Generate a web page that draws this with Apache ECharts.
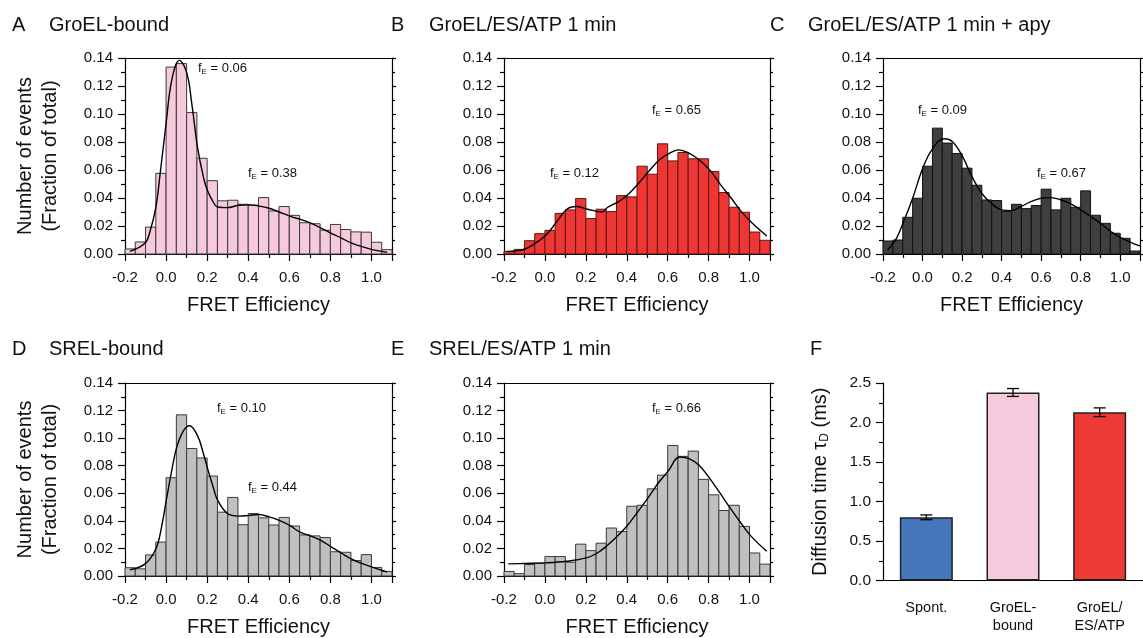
<!doctype html>
<html>
<head>
<meta charset="utf-8">
<title>FRET histograms</title>
<script src="https://cdn.jsdelivr.net/npm/echarts@6/dist/echarts.min.js"></script>
</head>
<body style="margin:0;padding:0;background:#fff;">
<div id="chart" style="width:1143px;height:638px;"></div>
<script>
// bin left edges of the FRET histograms, bins are 0.05 wide
var binStart = [-0.2, -0.15, -0.1, -0.05, 0.0, 0.05, 0.1, 0.15, 0.2, 0.25, 0.3, 0.35, 0.4,
                0.45, 0.5, 0.55, 0.6, 0.65, 0.7, 0.75, 0.8, 0.85, 0.9, 0.95, 1.0, 1.05];
var binWidth = 0.05;

// A GroEL-bound
var histA = [0.0036, 0.0086, 0.0192, 0.0576, 0.1335, 0.1360, 0.1010, 0.0684, 0.0524, 0.0380, 0.0384, 0.0355, 0.0350,
             0.0403, 0.0307, 0.0339, 0.0276, 0.0223, 0.0216, 0.0170, 0.0211, 0.0175, 0.0158, 0.0156, 0.0084, 0.0031];
var fitA = [[-0.176, 0.0019], [-0.102, 0.0079], [-0.078, 0.0163], [-0.05, 0.0331], [-0.029, 0.0572], [0.0, 0.0932],
            [0.028, 0.1244], [0.065, 0.1383], [0.101, 0.1292], [0.125, 0.1076], [0.153, 0.0764], [0.182, 0.0548],
            [0.202, 0.0451], [0.231, 0.0367], [0.25, 0.0336], [0.299, 0.0331], [0.353, 0.0348], [0.402, 0.0351],
            [0.45, 0.0343], [0.502, 0.0327], [0.551, 0.0300], [0.602, 0.0271], [0.654, 0.0247], [0.702, 0.0223],
            [0.751, 0.0187], [0.8, 0.0151], [0.852, 0.0115], [0.901, 0.0079], [0.95, 0.0055], [1.003, 0.0031], [1.076, 0.0012]];

// B GroEL/ES/ATP 1 min
var histB = [0.0019, 0.0033, 0.0095, 0.0145, 0.0169, 0.0290, 0.0315, 0.0396, 0.0253, 0.0320, 0.0303, 0.0417, 0.0408,
             0.0627, 0.0570, 0.0787, 0.0665, 0.0725, 0.0680, 0.0680, 0.0589, 0.0439, 0.0334, 0.0298, 0.0157, 0.0098];
var fitB = [[-0.187, 0.0017], [-0.097, 0.0036], [-0.048, 0.0076], [0.006, 0.0136], [0.058, 0.0231], [0.107, 0.0320],
            [0.153, 0.0339], [0.208, 0.0320], [0.28, 0.0300], [0.307, 0.0334], [0.36, 0.0374], [0.409, 0.0429],
            [0.458, 0.0506], [0.511, 0.0596], [0.56, 0.0673], [0.61, 0.0720], [0.655, 0.0744], [0.704, 0.0720],
            [0.753, 0.0673], [0.805, 0.0601], [0.859, 0.0494], [0.911, 0.0398], [0.96, 0.0303], [1.014, 0.0219], [1.084, 0.0129]];

// C GroEL/ES/ATP 1 min + apy
var histC = [0.0093, 0.0100, 0.0262, 0.0398, 0.0627, 0.0899, 0.0792, 0.0718, 0.0613, 0.0491, 0.0386, 0.0382, 0.0303,
             0.0355, 0.0324, 0.0346, 0.0463, 0.0315, 0.0398, 0.0334, 0.0451, 0.0277, 0.0219, 0.0148, 0.0112, 0.0021];
var fitC = [[-0.177, 0.0029], [-0.132, 0.0112], [-0.099, 0.0219], [-0.05, 0.0398], [-0.002, 0.0601], [0.047, 0.0744],
            [0.109, 0.0823], [0.15, 0.0804], [0.198, 0.0708], [0.25, 0.0553], [0.299, 0.0434], [0.348, 0.0363],
            [0.4, 0.0315], [0.449, 0.0310], [0.499, 0.0339], [0.548, 0.0374], [0.6, 0.0398], [0.649, 0.0403],
            [0.701, 0.0386], [0.75, 0.0358], [0.8, 0.0315], [0.852, 0.0267], [0.901, 0.0219], [0.953, 0.0160],
            [1.002, 0.0117], [1.07, 0.0072], [1.1, 0.0058]];

// D SREL-bound
var histD = [0.0060, 0.0052, 0.0153, 0.0246, 0.0713, 0.1169, 0.0925, 0.0856, 0.0725, 0.0463, 0.0570, 0.0372, 0.0453,
             0.0422, 0.0370, 0.0425, 0.0363, 0.0298, 0.0291, 0.0279, 0.0176, 0.0172, 0.0112, 0.0155, 0.0062, 0.0033];
var fitD = [[-0.176, 0.0045], [-0.102, 0.0088], [-0.05, 0.0196], [-0.021, 0.0363], [0.0, 0.0541], [0.028, 0.0768],
            [0.052, 0.0935], [0.085, 0.1054], [0.114, 0.1090], [0.153, 0.1018], [0.182, 0.0887], [0.202, 0.0780],
            [0.231, 0.0637], [0.25, 0.0553], [0.299, 0.0453], [0.353, 0.0434], [0.402, 0.0439], [0.45, 0.0446],
            [0.502, 0.0429], [0.551, 0.0403], [0.602, 0.0367], [0.65, 0.0320], [0.702, 0.0291], [0.751, 0.0260],
            [0.8, 0.0215], [0.852, 0.0167], [0.901, 0.0124], [0.95, 0.0093], [1.003, 0.0064], [1.076, 0.0029]];

// E SREL/ES/ATP 1 min
var histE = [0.0033, 0.0017, 0.0083, 0.0093, 0.0141, 0.0141, 0.0100, 0.0231, 0.0184, 0.0238, 0.0348, 0.0322, 0.0506,
             0.0513, 0.0632, 0.0732, 0.0947, 0.0868, 0.0906, 0.0701, 0.0589, 0.0475, 0.0513, 0.0360, 0.0167, 0.0086];
var fitE = [[-0.179, 0.0088], [-0.097, 0.0091], [0.001, 0.0095], [0.107, 0.0107], [0.202, 0.0131], [0.254, 0.0165],
            [0.303, 0.0219], [0.352, 0.0286], [0.401, 0.0363], [0.45, 0.0458], [0.503, 0.0565], [0.553, 0.0673],
            [0.602, 0.0761], [0.659, 0.0863], [0.704, 0.0851], [0.753, 0.0804], [0.805, 0.0708], [0.856, 0.0601],
            [0.905, 0.0494], [0.957, 0.0386], [1.006, 0.0291], [1.084, 0.0179]];

// F diffusion times
var fCategories = ['Spont.', 'GroEL-\nbound', 'GroEL/\nES/ATP'];
var fValues = [0.80, 2.38, 2.13];
var fErrors = [0.03, 0.05, 0.055];
var fColors = ['#4677bd', '#f7cadf', '#ee3a36'];

var FONT = '"Liberation Sans", Arial, Helvetica, sans-serif';
var INK = '#111';

var chart = echarts.init(document.getElementById('chart'));

var grids = [], xAxes = [], yAxes = [], series = [], graphics = [];

function histPanel(rect, hist, fit, fill, stroke, yName) {
    var g = grids.length;
    grids.push({ left: rect[0], top: rect[1], width: rect[2], height: rect[3] });
    var xi = xAxes.length, yi = yAxes.length;
    var line = { color: '#000', width: 1.2 };
    xAxes.push({
        gridIndex: g, type: 'value', position: 'bottom', min: -0.2, max: 1.1, interval: 0.2,
        axisLine: { onZero: false, lineStyle: line },
        axisTick: { length: 7, lineStyle: line },
        minorTick: { show: true, splitNumber: 2, length: 4, lineStyle: line },
        splitLine: { show: false },
        axisLabel: {
            fontSize: 15, color: INK, fontFamily: FONT, margin: 16,
            formatter: function (v) { return v > 1.05 ? '' : v.toFixed(1); }
        },
        name: 'FRET Efficiency', nameLocation: 'middle', nameGap: 41,
        nameTextStyle: { fontSize: 20, color: INK, fontFamily: FONT }
    });
    xAxes.push({
        gridIndex: g, type: 'value', position: 'top', min: -0.2, max: 1.1,
        axisLine: { onZero: false, lineStyle: line },
        axisTick: { show: false }, axisLabel: { show: false }, splitLine: { show: false }
    });
    var left = {
        gridIndex: g, type: 'value', position: 'left', min: 0, max: 0.14, interval: 0.02,
        axisLine: { show: true, onZero: false, lineStyle: line },
        axisTick: { show: true, length: 7, lineStyle: line },
        minorTick: { show: true, splitNumber: 2, length: 4, lineStyle: line },
        splitLine: { show: false },
        axisLabel: {
            fontSize: 15, color: INK, fontFamily: FONT, margin: 12,
            formatter: function (v) { return v.toFixed(2); }
        }
    };
    if (yName) {
        left.name = 'Number of events\n(Fraction of total)';
        left.nameLocation = 'middle';
        left.nameRotate = 90;
        left.nameGap = 62;
        left.nameTextStyle = { fontSize: 20, color: INK, fontFamily: FONT, lineHeight: 25 };
    }
    yAxes.push(left);
    yAxes.push({
        gridIndex: g, type: 'value', position: 'right', min: 0, max: 0.14, interval: 0.02,
        axisLine: { show: true, onZero: false, lineStyle: line },
        axisTick: { show: true, length: 4, lineStyle: line },
        minorTick: { show: true, splitNumber: 2, length: 3, lineStyle: line },
        splitLine: { show: false }, axisLabel: { show: false }
    });
    series.push({
        type: 'custom', xAxisIndex: xi, yAxisIndex: yi,
        encode: { x: [0, 1], y: 2 },
        data: binStart.map(function (x, i) { return [x, x + binWidth, hist[i]]; }),
        renderItem: function (params, api) {
            var p0 = api.coord([api.value(0), 0]);
            var p1 = api.coord([api.value(1), api.value(2)]);
            return {
                type: 'rect',
                shape: { x: p0[0], y: p1[1], width: p1[0] - p0[0], height: p0[1] - p1[1] },
                style: { fill: fill, stroke: stroke, lineWidth: 1 }
            };
        },
        z: 2
    });
    series.push({
        type: 'line', xAxisIndex: xi, yAxisIndex: yi, data: fit, smooth: 0.4,
        showSymbol: false, symbol: 'none', lineStyle: { color: '#000', width: 1.4 }, z: 3
    });
}

histPanel([125, 58, 267, 196], histA, fitA, '#f7c9dd', '#3a3a3a', true);
histPanel([504, 58, 266, 196], histB, fitB, '#ee3735', '#5a1515', false);
histPanel([883, 58, 267, 196], histC, fitC, '#3f3f3f', '#111', false);
histPanel([125, 383, 267, 196], histD, fitD, '#c0c0c0', '#3a3a3a', true);
histPanel([504, 383, 266, 196], histE, fitE, '#c0c0c0', '#3a3a3a', false);

// panel F
var gF = grids.length;
grids.push({ left: 883, top: 383, width: 267, height: 197.5 });
var xF = xAxes.length, yF = yAxes.length;
xAxes.push({
    gridIndex: gF, type: 'category', data: fCategories,
    axisLine: { lineStyle: { color: '#000', width: 1.2 } },
    axisTick: { alignWithLabel: true, length: 7, lineStyle: { color: '#000', width: 1.2 } },
    axisLabel: { fontSize: 14.5, color: INK, fontFamily: FONT, margin: 18, lineHeight: 18 }
});
yAxes.push({
    gridIndex: gF, type: 'value', min: 0, max: 2.5, interval: 0.5,
    axisLine: { show: true, lineStyle: { color: '#000', width: 1.2 } },
    axisTick: { show: true, length: 7, lineStyle: { color: '#000', width: 1.2 } },
    minorTick: { show: true, splitNumber: 2, length: 4, lineStyle: { color: '#000', width: 1.2 } },
    splitLine: { show: false },
    axisLabel: { fontSize: 15.5, color: INK, fontFamily: FONT, margin: 12,
        formatter: function (v) { return v.toFixed(1); } },
    name: '{a|Diffusion time τ}{b|D}{a| (ms)}', nameLocation: 'middle', nameRotate: 90, nameGap: 52,
    nameTextStyle: {
        fontFamily: FONT, color: INK,
        rich: {
            a: { fontSize: 20, fontFamily: FONT, color: INK },
            b: { fontSize: 12, fontFamily: FONT, color: INK, padding: [10, 0, 0, 0] }
        }
    }
});
series.push({
    type: 'bar', xAxisIndex: xF, yAxisIndex: yF, barWidth: 53,
    data: fValues.map(function (v, i) {
        return { value: v, itemStyle: { color: fColors[i] } };
    }),
    itemStyle: { borderColor: '#222', borderWidth: 1.5 }
});
series.push({
    type: 'custom', xAxisIndex: xF, yAxisIndex: yF,
    data: fValues.map(function (v, i) { return [i, v - fErrors[i], v + fErrors[i]]; }),
    renderItem: function (params, api) {
        var lo = api.coord([api.value(0), api.value(1)]);
        var hi = api.coord([api.value(0), api.value(2)]);
        var st = { stroke: '#000', lineWidth: 1.3 };
        return {
            type: 'group',
            children: [
                { type: 'line', shape: { x1: lo[0], y1: lo[1], x2: hi[0], y2: hi[1] }, style: st },
                { type: 'line', shape: { x1: lo[0] - 6, y1: lo[1], x2: lo[0] + 6, y2: lo[1] }, style: st },
                { type: 'line', shape: { x1: hi[0] - 6, y1: hi[1], x2: hi[0] + 6, y2: hi[1] }, style: st }
            ]
        };
    },
    z: 5
});

// panel titles
var titles = [
    ['A', 'GroEL-bound', 12, 49, 25],
    ['B', 'GroEL/ES/ATP 1 min', 391, 429, 25],
    ['C', 'GroEL/ES/ATP 1 min + apy', 770, 808, 25],
    ['D', 'SREL-bound', 12, 49, 349],
    ['E', 'SREL/ES/ATP 1 min', 391, 429, 349],
    ['F', '', 810, 0, 349]
];
titles.forEach(function (t) {
    graphics.push({ type: 'text', x: t[2], y: t[4],
        style: { text: t[0], font: '20px ' + FONT, fill: INK, verticalAlign: 'middle' } });
    if (t[1]) graphics.push({ type: 'text', x: t[3], y: t[4],
        style: { text: t[1], font: '20px ' + FONT, fill: INK, verticalAlign: 'middle' } });
});

// fitted peak efficiencies
var peakLabels = [
    ['0.06', 198, 68], ['0.38', 248, 173],
    ['0.65', 652, 110], ['0.12', 550, 173],
    ['0.09', 918, 110], ['0.67', 1037, 173],
    ['0.10', 217, 408], ['0.44', 248, 487],
    ['0.66', 652, 408]
];
peakLabels.forEach(function (p) {
    graphics.push({ type: 'text', x: p[1], y: p[2],
        style: {
            text: '{a|f}{b|E}{a| = ' + p[0] + '}', verticalAlign: 'middle',
            rich: {
                a: { fontSize: 13, fontFamily: FONT, fill: INK },
                b: { fontSize: 8, fontFamily: FONT, fill: INK, padding: [8, 0, 0, 0] }
            }
        } });
});

chart.setOption({
    animation: false,
    backgroundColor: '#fff',
    textStyle: { fontFamily: FONT },
    grid: grids,
    xAxis: xAxes,
    yAxis: yAxes,
    series: series,
    graphic: graphics
});
</script>
</body>
</html>
